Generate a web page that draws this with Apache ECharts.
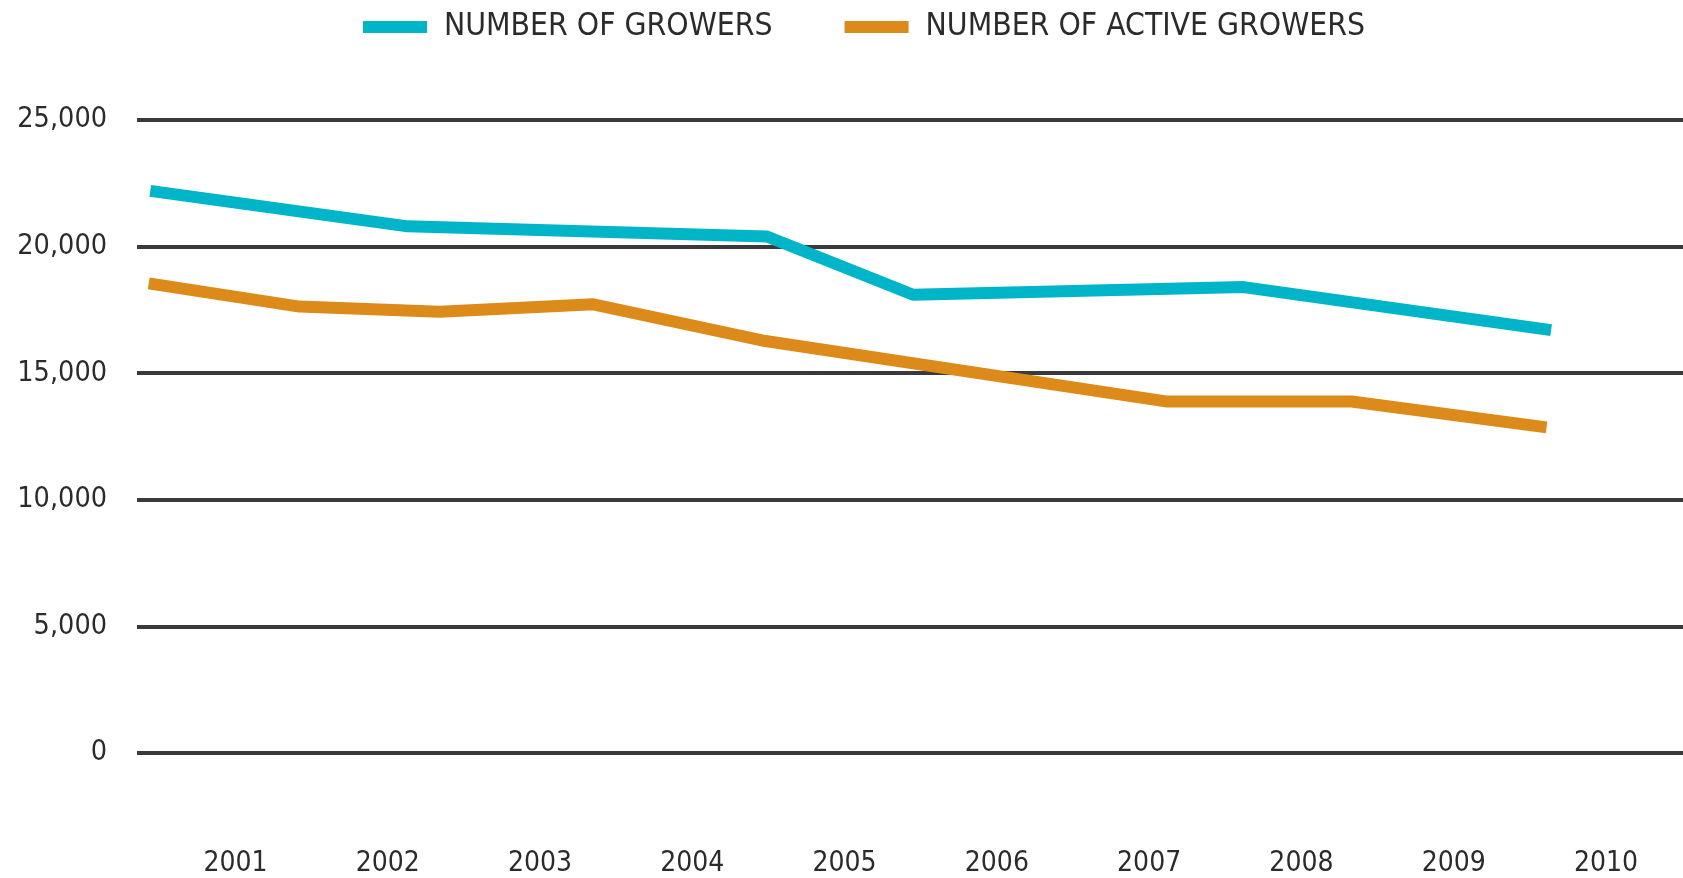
<!DOCTYPE html>
<html>
<head>
<meta charset="utf-8">
<script src="https://cdn.jsdelivr.net/npm/echarts@6/dist/echarts.min.js"></script>
<style>
  html, body { margin: 0; padding: 0; background: #ffffff; }
  #chart { width: 1683px; height: 878px; }
</style>
</head>
<body>
<div id="chart"></div>
<script>
// ---- Data ----
const seriesNames = ['NUMBER OF GROWERS', 'NUMBER OF ACTIVE GROWERS'];
const yearLabels = [2001, 2002, 2003, 2004, 2005, 2006, 2007, 2008, 2009, 2010];
const yTicks = [0, 5000, 10000, 15000, 20000, 25000];

// vertices of each line: position along the year axis and value
const growersX = [2000.44, 2002.13, 2004.49, 2005.45, 2007.62, 2009.64];
const growersY = [22200, 20800, 20400, 18100, 18400, 16700];

const activeX = [2000.43, 2001.42, 2002.34, 2003.35, 2004.48, 2007.12, 2008.33, 2009.61];
const activeY = [18550, 17630, 17430, 17720, 16270, 13880, 13880, 12860];

const FONT = "'Liberation Sans Narrow', 'DejaVu Sans Condensed', 'Roboto', sans-serif";
const TEXT = '#2b2b2b';

function pairs(xs, ys) { return xs.map((x, i) => [x, ys[i]]); }

const chart = echarts.init(document.getElementById('chart'), null, { renderer: 'canvas' });

chart.setOption({
  animation: false,
  backgroundColor: '#ffffff',
  legend: {
    left: 358,
    top: 6,
    itemWidth: 64,
    itemHeight: 12,
    itemGap: 72,
    icon: 'rect',
    textStyle: { fontFamily: FONT, fontSize: 31.6, color: TEXT, padding: [0, 0, 0, 12] },
    data: seriesNames
  },
  grid: {
    left: 137,
    right: 0,
    top: 120,
    bottom: 124.7,
    containLabel: false
  },
  xAxis: {
    type: 'value',
    min: 2000.353,
    max: 2010.506,
    axisLine: { show: false },
    axisTick: { show: false },
    splitLine: { show: false },
    axisLabel: {
      customValues: yearLabels,
      formatter: v => String(Math.round(v)),
      fontFamily: FONT,
      fontSize: 28,
      color: TEXT,
      margin: 111,
      verticalAlign: 'middle'
    }
  },
  yAxis: {
    type: 'value',
    min: yTicks[0],
    max: yTicks[yTicks.length - 1],
    interval: 5000,
    axisLine: { show: false },
    axisTick: { show: false },
    splitLine: { show: true, lineStyle: { color: '#3a3a3a', width: 4 } },
    axisLabel: {
      fontFamily: FONT,
      fontSize: 28.5,
      color: TEXT,
      margin: 30,
      formatter: v => v.toLocaleString('en-US')
    }
  },
  series: [
    {
      name: seriesNames[0],
      type: 'line',
      data: pairs(growersX, growersY),
      showSymbol: false,
      symbol: 'none',
      color: '#00b5c8',
      lineStyle: { width: 12, color: '#00b5c8', cap: 'butt', join: 'round' },
      z: 3
    },
    {
      name: seriesNames[1],
      type: 'line',
      data: pairs(activeX, activeY),
      showSymbol: false,
      symbol: 'none',
      color: '#dc8a1a',
      lineStyle: { width: 12, color: '#dc8a1a', cap: 'butt', join: 'round' },
      z: 3
    }
  ]
});
</script>
</body>
</html>
